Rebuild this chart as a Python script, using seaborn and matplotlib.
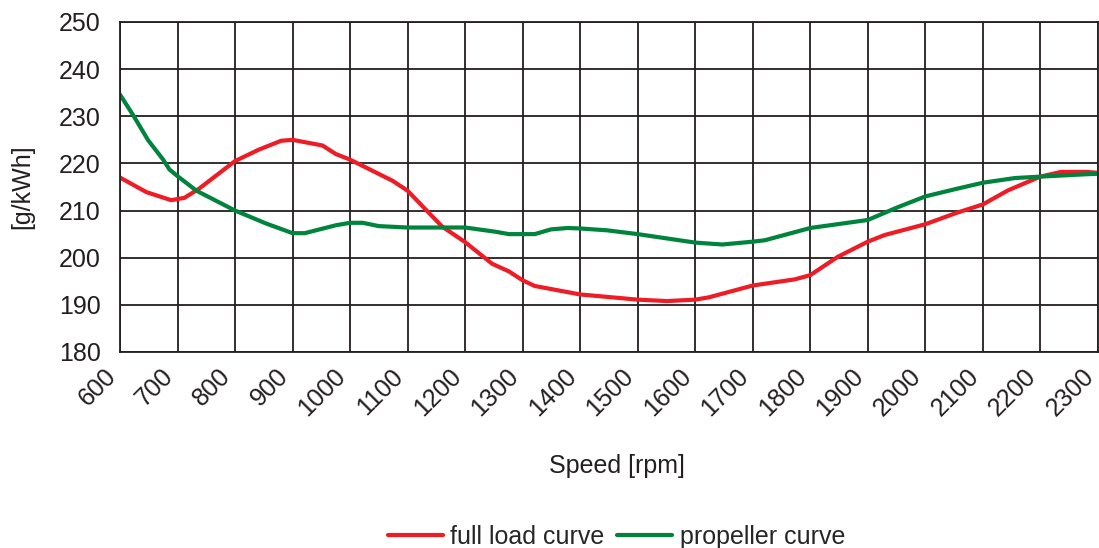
import numpy as np
import pandas as pd
import seaborn as sns
from matplotlib import pyplot as plt
from matplotlib.transforms import ScaledTranslation

# values
full_load_rpm = [600, 646, 689, 712, 737, 800, 841, 880, 900, 952, 975, 1000, 1074, 1100,
                 1160, 1200, 1247, 1276, 1300, 1321, 1400, 1500, 1551, 1600, 1624, 1700,
                 1773, 1800, 1848, 1900, 1929, 2000, 2054, 2100, 2144, 2200, 2236, 2280, 2300]
full_load_sfc = [217.0, 213.9, 212.2, 212.7, 214.6, 220.5, 222.9, 224.8, 225.0, 223.8, 222.0,
                 220.8, 216.3, 214.2, 206.6, 203.3, 198.7, 197.1, 195.2, 194.0, 192.2, 191.1,
                 190.8, 191.1, 191.6, 194.1, 195.4, 196.3, 200.2, 203.4, 204.8, 207.1, 209.5,
                 211.3, 214.3, 217.2, 218.2, 218.2, 218.0]

propeller_rpm = [600, 623, 649, 675, 686, 700, 733, 800, 853, 900, 921, 976, 1000, 1022, 1050,
                 1100, 1200, 1253, 1276, 1321, 1349, 1378, 1400, 1447, 1500, 1600, 1647, 1700,
                 1721, 1800, 1900, 1952, 2000, 2054, 2100, 2156, 2200, 2280, 2300]
propeller_sfc = [234.6, 230.2, 224.9, 220.8, 218.7, 217.3, 214.2, 210.0, 207.3, 205.2, 205.2,
                 206.9, 207.4, 207.4, 206.7, 206.4, 206.4, 205.5, 205.0, 205.0, 206.0, 206.3,
                 206.2, 205.8, 205.0, 203.2, 202.8, 203.4, 203.7, 206.3, 208.0, 210.7, 213.0,
                 214.6, 215.9, 216.9, 217.2, 217.7, 217.8]

x_ticks = list(range(600, 2301, 100))
y_ticks = list(range(180, 251, 10))

df = pd.concat([
    pd.DataFrame({"rpm": full_load_rpm, "sfc": full_load_sfc, "curve": "full load curve"}),
    pd.DataFrame({"rpm": propeller_rpm, "sfc": propeller_sfc, "curve": "propeller curve"}),
])

sns.set_style("white")
plt.rcParams['font.family'] = ['Liberation Sans', 'DejaVu Sans']
grid_col = "#231f20"
txt_col = "#231f20"
fs = 18

fig = plt.figure(figsize=(10.99, 5.48), dpi=100)
ax = fig.add_axes([0.1092, 0.3577, 0.8898, 0.6022])

sns.lineplot(data=df, x="rpm", y="sfc", hue="curve", sort=False, estimator=None,
             palette={"full load curve": "#ee1c25", "propeller curve": "#00843d"},
             linewidth=3.0, ax=ax, legend=False)

ax.set_xlim(600, 2300)
ax.set_ylim(180, 250)
ax.set_xticks(x_ticks)
ax.set_yticks(y_ticks)
ax.set_xticklabels([str(t) for t in x_ticks], rotation=45, ha="right",
                   rotation_mode="anchor", va="center")
ax.tick_params(axis="both", labelsize=fs, colors=grid_col, length=6, width=1.3,
               direction="out", labelcolor=txt_col)
ax.tick_params(axis="x", pad=9)
ax.tick_params(axis="y", pad=8)
shift = ScaledTranslation(-8 / 100, 0, fig.dpi_scale_trans)
for lbl in ax.get_xticklabels():
    lbl.set_transform(lbl.get_transform() + shift)

ax.grid(True, color=grid_col, linewidth=1.3)
ax.set_axisbelow(True)
for s in ax.spines.values():
    s.set_color(grid_col)
    s.set_linewidth(1.3)

ax.set_xlabel("")
ax.set_ylabel("")
fig.text(0.561, 1 - 466 / 548, "Speed [rpm]", fontsize=fs, color=txt_col,
         ha="center", va="center")
fig.text(22 / 1099, 1 - 187 / 548, "[g/kWh]", fontsize=fs, color=txt_col,
         ha="center", va="center", rotation=90)

handles = [plt.Line2D([], [], color="#ee1c25", linewidth=3.0),
           plt.Line2D([], [], color="#00843d", linewidth=3.0)]
fig.legend(handles, ["full load curve", "propeller curve"], loc="center",
           bbox_to_anchor=(0.561, 1 - 537 / 548), ncol=2, frameon=False, fontsize=fs,
           handlelength=2.2, handletextpad=0.3, columnspacing=0.5,
           borderaxespad=0, borderpad=0)

fig.savefig("out.png", dpi=100)
